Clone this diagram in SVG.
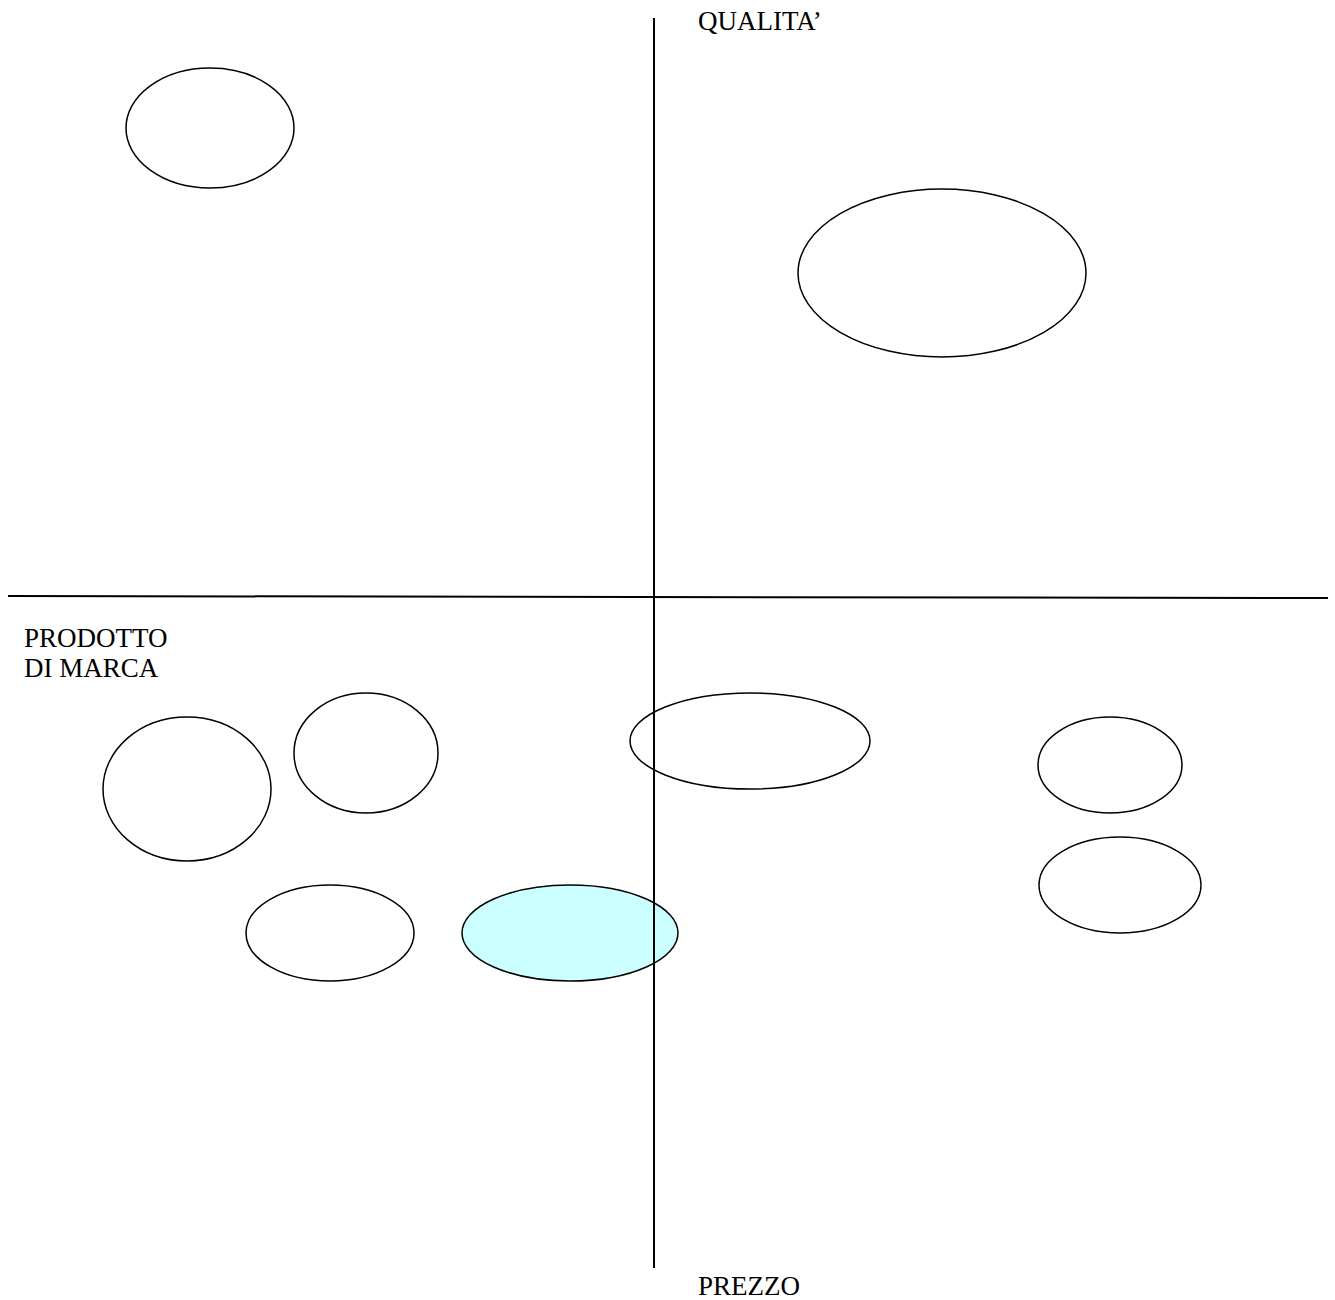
<svg xmlns="http://www.w3.org/2000/svg" width="1335" height="1300" viewBox="0 0 1335 1300">
<style>
.n{fill:#fff;stroke:#000;stroke-width:1.5}
.hl{fill:#ccffff}
.ax{stroke:#000;stroke-width:2;fill:none}
text{font-family:"Liberation Serif","Times New Roman",serif;font-size:27px;fill:#000}
</style>
<rect width="1335" height="1300" fill="#fff"/>
<g id="e1"><ellipse class="n" cx="210" cy="128" rx="84" ry="60"/></g>
<g id="e2"><ellipse class="n" cx="942" cy="273" rx="144" ry="84"/></g>
<g id="e3"><ellipse class="n" cx="187" cy="789" rx="84" ry="72"/></g>
<g id="e4"><ellipse class="n" cx="366" cy="753" rx="72" ry="60"/></g>
<g id="e5"><ellipse class="n" cx="750" cy="741" rx="120" ry="48"/></g>
<g id="e6"><ellipse class="n" cx="1110" cy="765" rx="72" ry="48"/></g>
<g id="e7"><ellipse class="n" cx="1120" cy="885" rx="81" ry="48"/></g>
<g id="e8"><ellipse class="n" cx="330" cy="933" rx="84" ry="48"/></g>
<g id="e9"><ellipse class="n hl" cx="570" cy="933" rx="108" ry="48"/></g>
<g id="axes">
<line class="ax" x1="654" y1="18" x2="654" y2="1268"/>
<line class="ax" x1="8" y1="596" x2="1328" y2="598"/>
</g>
<g id="labels">
<text x="698" y="30">QUALITA’</text>
<text x="24" y="647">PRODOTTO</text>
<text x="24" y="677">DI MARCA</text>
<text x="698" y="1295">PREZZO</text>
</g>
</svg>
